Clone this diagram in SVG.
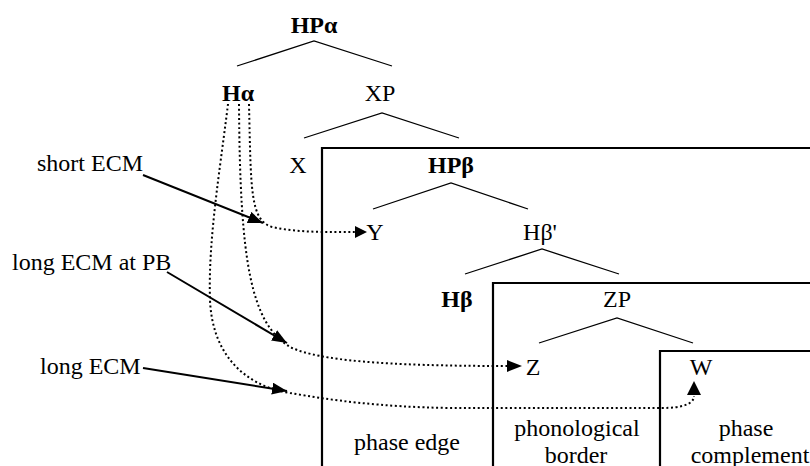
<svg xmlns="http://www.w3.org/2000/svg" width="810" height="466" viewBox="0 0 810 466" font-family="'Liberation Serif', 'Times New Roman', Tinos, serif">
<style>
text{font-family:'Liberation Serif','Times New Roman',Tinos,serif;font-size:24px;fill:#000;text-anchor:middle}
.b{font-weight:bold}
.l{text-anchor:start}
.tree{stroke:#000;stroke-width:1.3;fill:none}
.box{stroke:#000;stroke-width:2.2;fill:none}
.arr{stroke:#000;stroke-width:2;fill:none;marker-end:url(#ah)}
.dot{stroke:#000;stroke-width:2;fill:none;stroke-dasharray:2 2.6}
</style>
<defs>
<marker id="ah" markerUnits="userSpaceOnUse" markerWidth="16" markerHeight="12" refX="15" refY="6" orient="auto"><path d="M0,0 L15,6 L0,12 z" fill="#000"/></marker>
</defs>
<g id="boxes">
<path class="box" d="M322,470 V148 H815"/>
<path class="box" d="M493,470 V283 H815"/>
<path class="box" d="M660,470 V351 H815"/>
</g>
<g id="tree-lines">
<path class="tree" d="M237,66 L314,41 L392,66"/>
<path class="tree" d="M304,138 L382,113 L459,138"/>
<path class="tree" d="M373,209 L451,183 L528,209"/>
<path class="tree" d="M465,274 L542,249 L619,274"/>
<path class="tree" d="M539,343 L617,318 L693,343"/>
</g>
<g id="n-HPa"><text class="b" x="314" y="33">HPα</text></g>
<g id="n-Ha"><text class="b" x="238" y="101">Hα</text></g>
<g id="n-XP"><text x="380" y="101">XP</text></g>
<g id="n-X"><text x="298" y="173">X</text></g>
<g id="n-HPb"><text class="b" x="451" y="173">HPβ</text></g>
<g id="n-Y"><text x="375" y="240">Y</text></g>
<g id="n-Hb1"><text x="540" y="240">Hβ'</text></g>
<g id="n-Hb"><text class="b" x="457" y="307">Hβ</text></g>
<g id="n-ZP"><text x="617" y="307">ZP</text></g>
<g id="n-Z"><text x="533" y="375">Z</text></g>
<g id="n-W"><text x="701" y="375">W</text></g>
<g id="lbl-short"><text class="l" x="37" y="171">short ECM</text></g>
<g id="lbl-longpb"><text class="l" x="12" y="270">long ECM at PB</text></g>
<g id="lbl-long"><text class="l" x="40" y="374">long ECM</text></g>
<g id="lbl-edge"><text x="407" y="450">phase edge</text></g>
<g id="lbl-border"><text x="577" y="436">phonological</text><text x="576" y="463">border</text></g>
<g id="lbl-compl"><text x="746" y="436">phase</text><text x="750" y="463">complement</text></g>
<g id="connectors">
<path class="arr" d="M143,175 L263,223"/>
<path class="arr" d="M167,272 L287,343"/>
<path class="arr" d="M143,368 L287,391"/>
<path class="dot" d="M249,104 C251,190 250,220 272,227 C300,233 330,232 355,232"/>
<path d="M355,226 L367,232 L355,238 z" fill="#000"/>
<path class="dot" d="M239,104 C240,260 250,325 292,348 C320,360 380,366 508,366"/>
<path d="M507,360 L522,366 L507,372 z" fill="#000"/>
<path class="dot" d="M228,104 C220,170 208,240 210,300 C212,350 240,385 290,393 C330,400 380,407 450,408 L662,408 C682,408 694,404 694,396"/>
<path d="M687,395 L694,381 L701,395 z" fill="#000"/>
</g>
</svg>
